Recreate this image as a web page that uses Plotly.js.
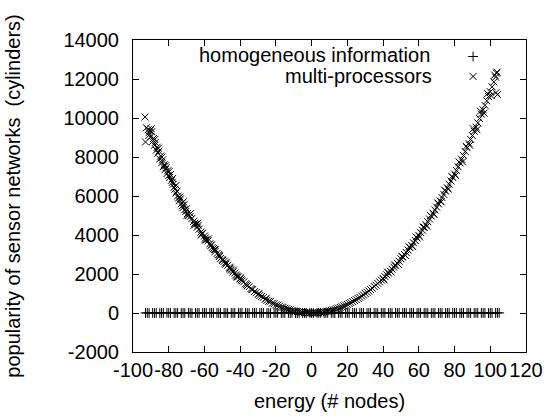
<!DOCTYPE html>
<html>
<head>
<meta charset="utf-8">
<script src="https://cdn.plot.ly/plotly-3.0.1.min.js"></script>
<style>html,body{margin:0;padding:0;background:#fff;}#chart{width:560px;height:416px;}</style>
</head>
<body>
<div id="chart"></div>
<script>
// ---- data ----
const seriesNames = ["homogeneous information", "multi-processors"];

const homogX = [-93,-91,-89,-87,-85,-83,-81,-79,-77,-75,-73,-71,-69,-67,-65,-63,-61,-59,-57,-55,-53,-51,-49,-47,-45,-43,-41,-39,-37,-35,-33,-31,-29,-27,-25,-23,-21,-19,-17,-15,-13,-11,-9,-7,-5,-3,-1,1,3,5,7,9,11,13,15,17,19,21,23,25,27,29,31,33,35,37,39,41,43,45,47,49,51,53,55,57,59,61,63,65,67,69,71,73,75,77,79,81,83,85,87,89,91,93,95,97,99,101,103,105,
 -92,-88,-84,-80,-76,-72,-68,-64,-60,-56,-52,-48,-44,-40,-36,-32,-28,-24,-20,-16,-12,-8,-4,0,4,8,12,16,20,24,28,32,36,40,44,48,52,56,60,64,68,72,76,80,84,88,92,96,100,104];
const homogY = [5,-3,8,2,-6,4,10,-2,3,7,-5,1,6,-4,9,2,-1,5,8,-3,4,0,7,-6,3,5,-2,6,1,-4,8,3,-1,5,2,-3,6,4,-2,7,1,3,-4,5,2,0,1,-2,4,6,-1,3,5,-3,2,7,1,-4,6,3,0,5,-2,8,2,-5,4,6,1,-3,7,2,5,-1,3,8,-2,4,6,0,-4,5,2,7,-3,1,6,4,-2,3,8,0,5,-1,2,6,-3,4,1,5,
 2,-4,6,1,-2,5,3,-1,7,2,-3,4,0,6,-2,3,5,-4,1,6,2,-1,4,0,3,-2,5,1,6,-3,2,4,0,7,-1,3,5,-2,6,1,4,-3,2,5,0,3,6,-1,2,4];

const multiX = [-93.3,-93.0,-91.5,-91.0,-90.5,-90.0,-89.5,-89.0,-88.5,-88.0,-87.5,-87.0,-86.5,-86.0,-85.5,-85.0,-84.5,-84.0,-83.5,-83.0,-82.5,-82.0,-81.5,-81.0,-80.5,-80.0,-79.5,-79.0,-78.5,-78.0,-77.5,-77.0,-76.5,-76.0,-75.5,-75.0,-74.5,-74.0,-73.5,-73.0,-72.5,-72.0,-71.5,-71.0,-70.5,-70.0,-69.5,-69.0,-68.0,-67.0,-66.0,-65.5,-65.0,-64.0,-63.5,-63.0,-62.0,-61.5,-61.0,-60.0,-59.5,-59.0,-58.0,-57.0,-56.5,-56.0,-55.0,-54.5,-54.0,-53.0,-52.0,-51.5,-51.0,-50.0,-49.0,-48.5,-48.0,-47.0,-46.0,-45.5,-45.0,-44.0,-43.0,-42.5,-42.0,-41.0,-40.0,-39.5,-39.0,-38.0,-37.0,-36.5,-36.0,-35.0,-34.0,-33.5,-33.0,-32.0,-31.0,-30.0,-29.5,-29.0,-28.0,-27.0,-26.0,-25.5,-25.0,-24.0,-23.0,-22.0,-21.0,-20.0,-19.0,-18.0,-17.0,-16.0,-15.0,-14.0,-13.0,-12.0,-11.0,-10.0,-9.0,-8.0,-7.0,-6.0,-5.0,-4.0,-3.0,-2.0,-1.0,0.0,1.0,2.0,3.0,4.0,5.0,6.0,7.0,8.0,9.0,10.0,11.0,12.0,13.0,14.0,15.0,16.0,17.0,18.0,19.0,20.0,21.0,22.0,23.0,24.0,25.0,26.0,27.0,28.0,29.0,30.0,31.0,32.0,33.0,34.0,35.0,36.0,37.0,38.0,39.0,40.0,41.0,42.0,43.0,44.0,45.0,46.0,47.0,48.0,49.0,50.0,51.0,52.0,53.0,54.0,55.0,56.0,57.0,58.0,59.0,60.0,61.0,62.0,63.0,64.0,65.0,66.0,67.0,68.0,69.0,70.0,71.0,72.0,73.0,74.0,75.0,76.0,77.0,78.0,79.0,80.0,81.0,82.0,83.0,84.0,85.0,86.0,87.0,88.0,89.0,90.0,91.0,92.0,93.0,94.0,95.0,96.0,97.0,98.0,99.0,100.0,101.0,102.0,103.0,103.5,104.0,
 40.5,42.5,44.5,46.5,48.5,50.5,52.5,54.5,56.5,58.5,60.5,62.5,64.5,66.5,68.5,70.5,72.5,74.5,76.5,78.5,80.5,82.5,84.5,86.5,88.5,90.5,92.5,94.5,96.5,98.5,100.5,102.5,103.8,103.2,
 -92.5,-91.2,-89.8,-87.8,-85.8,-83.8,-81.8,-79.8,-77.8,-75.8,-73.8,-71.8,-69.8,-67.8,-65.8,-63.8,-61.8,-59.8,-57.8,-55.8,-53.8,-51.8,-49.8,-47.8,-45.8,-43.8,-41.8,-39.8];
const multiY = [10050,8770,9400,9250,9350,9050,9300,8800,8950,8600,8750,8350,8500,8200,8300,7900,8050,7700,7850,7500,7600,7350,7450,7150,7300,7050,6950,7100,6800,6700,6600,6450,6350,6150,6250,6000,5900,5750,5850,5600,5500,5400,5550,5300,5200,5350,5100,5000,4950,4850,4700,4600,4550,4400,4500,4300,4150,4050,4100,3950,3850,3750,3700,3550,3450,3500,3300,3250,3150,3050,3000,2900,2800,2750,2650,2550,2500,2450,2350,2250,2200,2100,2050,1950,1900,1850,1750,1700,1650,1600,1500,1450,1400,1350,1250,1200,1200,1100,1050,950,1000,900,850,800,700,750,650,600,600,500,480,420,400,350,300,290,240,220,180,160,130,110,90,70,55,40,30,20,10,5,1,0,1,5,10,18,28,40,55,72,90,110,135,160,185,215,250,285,320,360,400,440,490,530,590,640,690,750,800,870,930,1000,1060,1130,1200,1270,1360,1430,1520,1600,1690,1770,1870,1960,2050,2150,2250,2350,2450,2550,2650,2780,2880,3000,3100,3230,3350,3470,3600,3720,3850,3980,4120,4250,4400,4530,4680,4820,4970,5120,5280,5430,5600,5750,5920,6080,6250,6420,6600,6770,6950,7130,7310,7500,7700,7880,8080,8280,8480,8700,8900,9100,9320,9530,9750,9970,10200,10420,10650,10880,11100,11350,11600,11850,12100,12300,11200,
 1700,2100,2100,2450,2500,2900,2950,3400,3400,3900,3900,4400,4450,5000,5050,5650,5700,6300,6350,7000,7050,7750,7750,8550,8600,9450,9400,10350,10250,11250,11150,12200,12350,11300,
 9500,9100,9450,8900,8450,8000,7550,7250,6900,6550,5950,5700,5000,5100,4500,4600,4000,3750,3800,3350,3250,2950,2700,2600,2300,2200,1850,1800];

const xTicks = [-100,-80,-60,-40,-20,0,20,40,60,80,100,120];
const yTicks = [-2000,0,2000,4000,6000,8000,10000,12000,14000];
const xTitle = "energy (# nodes)";
const yTitle = "popularity of sensor networks\u00a0\u00a0(cylinders)";

// ---- chart ----
const font = {family: "Liberation Sans, Arial, sans-serif", size: 20, color: "#000"};
const traces = [
  {x: homogX, y: homogY, type: "scatter", mode: "markers", name: "",
   marker: {symbol: "cross-thin-open", size: 7, color: "#000", line: {width: 1, color: "#000"}}},
  {x: multiX, y: multiY, type: "scatter", mode: "markers", name: "",
   marker: {symbol: "x-thin-open", size: 7, color: "#000", line: {width: 1, color: "#000"}}}
];
const axisCommon = {
  showgrid: false, zeroline: false, showline: true, linecolor: "#000", linewidth: 1,
  mirror: "ticks", ticks: "inside", ticklen: 6, tickcolor: "#000", tickwidth: 1,
  tickfont: font, tickangle: 0
};
const layout = {
  width: 560, height: 416,
  margin: {l: 133, r: 34, t: 40, b: 64},
  paper_bgcolor: "#fff", plot_bgcolor: "#fff",
  font: font,
  xaxis: Object.assign({}, axisCommon, {
    range: [-100, 120], tickmode: "array", tickvals: xTicks, ticktext: xTicks.map(String),
    title: {text: xTitle, font: font, standoff: 13}
  }),
  yaxis: Object.assign({}, axisCommon, {
    range: [-2000, 14000], tickmode: "array", tickvals: yTicks, ticktext: yTicks.map(String),
    ticklabelstandoff: 9,
    title: {text: yTitle, font: font, standoff: 37}
  }),
  showlegend: true,
  legend: {x: 0.8145, y: 0.995, xanchor: "left", yanchor: "top", bgcolor: "rgba(0,0,0,0)",
           font: {family: font.family, size: 13}, borderwidth: 0},
  annotations: [
    {xref: "paper", yref: "paper", x: 0.761, y: 0.952, xanchor: "right", yanchor: "middle",
     text: seriesNames[0], showarrow: false, font: font},
    {xref: "paper", yref: "paper", x: 0.766, y: 0.886, xanchor: "right", yanchor: "middle",
     text: seriesNames[1], showarrow: false, font: font}
  ]
};
Plotly.newPlot("chart", traces, layout, {displayModeBar: false, staticPlot: true});
</script>
</body>
</html>
